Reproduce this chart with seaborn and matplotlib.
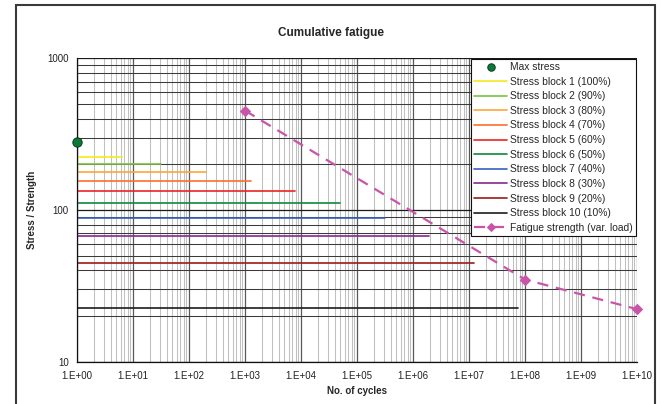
import matplotlib
matplotlib.use("Agg")
import matplotlib.pyplot as plt
import matplotlib.ticker as ticker
from matplotlib.patches import Rectangle
import numpy as np
import pandas as pd
import seaborn as sns

# data
max_stress_cycles = [1]
max_stress_value = [279]

block_labels = ["Stress block 1 (100%)", "Stress block 2 (90%)", "Stress block 3 (80%)",
                "Stress block 4 (70%)", "Stress block 5 (60%)", "Stress block 6 (50%)",
                "Stress block 7 (40%)", "Stress block 8 (30%)", "Stress block 9 (20%)",
                "Stress block 10 (10%)"]
block_stress = [223, 201, 179, 156, 134, 111.5, 89, 67, 44.6, 22.6]
block_end_cycles = [6.3, 32, 205, 1270, 7800, 4.9e4, 3.1e5, 1.95e6, 1.22e7, 7.6e7]
block_colors = ["#f5ea1c", "#7cc242", "#ffa53a", "#ff6f2a", "#ee2222",
                "#0c8a3c", "#3a5fbf", "#86278f", "#9a1b1b", "#1c1c1c"]

fatigue_cycles = [1e3, 1e8, 1e10]
fatigue_strength = [452, 34.8, 22.2]

sns.set_style("white")
plt.rcParams["font.family"] = ["Liberation Sans", "DejaVu Sans"]

rows = []
for lab, s, n in zip(block_labels, block_stress, block_end_cycles):
    rows.append({"block": lab, "cycles": 1, "stress": s})
    rows.append({"block": lab, "cycles": n, "stress": s})
blocks_df = pd.DataFrame(rows)
fatigue_df = pd.DataFrame({"cycles": fatigue_cycles, "stress": fatigue_strength,
                           "name": "Fatigue strength (var. load)"})
max_df = pd.DataFrame({"cycles": max_stress_cycles, "stress": max_stress_value, "name": "Max stress"})

fig = plt.figure(figsize=(6.61, 4.04), dpi=100)
ax = fig.add_axes([77 / 661, 1 - 361.7 / 404, 560 / 661, 303.4 / 404])

ax.set_xscale("log")
ax.set_yscale("log")
ax.set_xlim(1, 1e10)
ax.set_ylim(10, 1000)

ax.xaxis.set_major_locator(ticker.LogLocator(base=10, numticks=20))
ax.xaxis.set_minor_locator(ticker.LogLocator(base=10, subs=np.arange(2, 10), numticks=200))
ax.yaxis.set_major_locator(ticker.LogLocator(base=10))
ax.yaxis.set_minor_locator(ticker.LogLocator(base=10, subs=np.arange(2, 10), numticks=50))

ax.grid(which="minor", axis="x", color="#c0c0c0", lw=0.75)
ax.grid(which="major", axis="x", color="#5a5a5a", lw=0.9)
ax.grid(which="minor", axis="y", color="#3a3a3a", lw=0.75)
ax.grid(which="major", axis="y", color="#1a1a1a", lw=0.9)
ax.set_axisbelow(True)

sns.lineplot(data=blocks_df, x="cycles", y="stress", hue="block", palette=block_colors,
             hue_order=block_labels, lw=1.2, ax=ax, legend=True)
sns.lineplot(data=fatigue_df, x="cycles", y="stress", color="#c955a9", lw=1.6,
             marker="D", markersize=5, markeredgecolor="#c955a9",
             dashes=False, ax=ax, label="Fatigue strength (var. load)")
fat_line = ax.lines[-1]
fat_line.set_dashes([5, 3.5])
fat_line.set_clip_on(False)
sns.scatterplot(data=max_df, x="cycles", y="stress", color="#0a7a3a", edgecolor="#0a3a1a",
                s=45, linewidth=0.7, ax=ax, label="Max stress", zorder=5, clip_on=False)

ax.xaxis.set_major_formatter(ticker.FuncFormatter(lambda x, p: "1.E+%02d" % int(round(np.log10(x)))))
ax.yaxis.set_major_formatter(ticker.FuncFormatter(lambda y, p: "%d" % int(round(y))))
ax.tick_params(axis="both", which="major", labelsize=7, colors="#111111", labelcolor="#222222")
ax.tick_params(axis="y", which="major", direction="out", length=4, width=0.8, pad=2)
ax.tick_params(axis="x", which="major", direction="inout", length=5, width=0.8, pad=4)
ax.tick_params(which="minor", length=0)

for side in ["top", "right"]:
    ax.spines[side].set_visible(False)
for side in ["left", "bottom"]:
    ax.spines[side].set_color("#111111")
    ax.spines[side].set_linewidth(0.9)

ax.set_xlabel("No. of cycles", fontsize=7, fontweight="bold", labelpad=4)
ax.set_ylabel("Stress / Strength", fontsize=7, fontweight="bold", labelpad=7)
fig.text(0.5, 1 - 33 / 404, "Cumulative fatigue", ha="center", va="center",
         fontsize=8.5, fontweight="bold")

handles, labels = ax.get_legend_handles_labels()
order = ["Max stress"] + block_labels + ["Fatigue strength (var. load)"]
hmap = dict(zip(labels, handles))
leg = ax.legend([hmap[l] for l in order], order, loc="upper right",
                bbox_to_anchor=(0.998, 0.998), borderaxespad=0, fontsize=7.4,
                frameon=True, fancybox=False, framealpha=1, edgecolor="#111111",
                handlelength=3.2, handletextpad=0.3, labelspacing=0.45,
                borderpad=0.3, markerscale=0.8)
leg.get_frame().set_linewidth(0.8)

fig.add_artist(Rectangle((16 / 661, -0.05), (655 - 16) / 661, 1.05 - 5 / 404,
                         transform=fig.transFigure, fill=False, edgecolor="#3a3a3a",
                         lw=1.5, clip_on=False))

fig.savefig("out.png", dpi=100)
